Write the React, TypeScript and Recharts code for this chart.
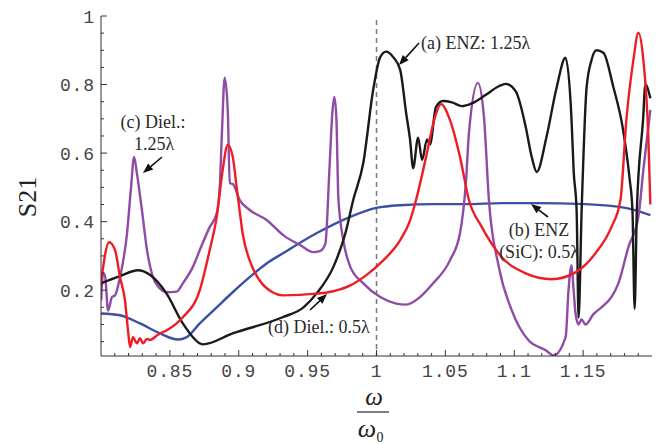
import React from 'react';
import { LineChart, Line, XAxis, YAxis, ReferenceLine } from 'recharts';

// omega / omega0 , S21
const enzLong: [number, number][] = [
  [0.8, 0.22], [0.8138, 0.241], [0.8268, 0.258], [0.8355, 0.245], [0.8476, 0.19],
  [0.8594, 0.103], [0.8717, 0.045], [0.8739, 0.042], [0.8956, 0.074], [0.9318, 0.121],
  [0.947, 0.15], [0.9564, 0.19], [0.9687, 0.268], [0.9774, 0.366], [0.9831, 0.463],
  [0.9904, 0.571], [0.9976, 0.785], [1.0027, 0.88], [1.007, 0.896], [1.0121, 0.88],
  [1.0172, 0.843], [1.0215, 0.717], [1.0244, 0.638], [1.0266, 0.556], [1.0302, 0.645],
  [1.0331, 0.58], [1.0367, 0.64], [1.0388, 0.625], [1.0432, 0.735], [1.0483, 0.752],
  [1.0548, 0.748], [1.062, 0.737], [1.0692, 0.745], [1.0794, 0.77], [1.0888, 0.795],
  [1.0938, 0.802], [1.1011, 0.78], [1.1083, 0.677], [1.1126, 0.59], [1.1163, 0.545],
  [1.1234, 0.647], [1.1307, 0.79], [1.1372, 0.878], [1.1416, 0.697], [1.1431, 0.55],
  [1.1453, 0.43], [1.1467, 0.12], [1.1489, 0.43], [1.1525, 0.79], [1.156, 0.87],
  [1.1597, 0.9], [1.1647, 0.893], [1.1718, 0.795], [1.179, 0.668], [1.1836, 0.53],
  [1.1858, 0.434], [1.1874, 0.146], [1.189, 0.434], [1.1935, 0.697], [1.1952, 0.8],
  [1.1988, 0.76],
];

const enzSiC: [number, number][] = [
  [0.8, 0.132], [0.8138, 0.127], [0.8283, 0.103], [0.8428, 0.074], [0.8558, 0.056],
  [0.8623, 0.063], [0.8717, 0.103], [0.884, 0.15], [0.8956, 0.194], [0.9079, 0.238],
  [0.9202, 0.278], [0.9318, 0.307], [0.9564, 0.366], [0.981, 0.414], [0.9998, 0.44],
  [1.0172, 0.448], [1.0411, 0.451], [1.065, 0.451], [1.091, 0.454], [1.1156, 0.454],
  [1.1518, 0.451], [1.1807, 0.44], [1.1988, 0.419],
];

const dielLong: [number, number][] = [
  [0.8001, 0.17], [0.8015, 0.25], [0.803, 0.24], [0.8051, 0.141], [0.808, 0.18],
  [0.8102, 0.185], [0.8138, 0.238], [0.8189, 0.366], [0.8218, 0.5], [0.824, 0.589],
  [0.8261, 0.54], [0.8297, 0.434], [0.8334, 0.317], [0.8377, 0.238], [0.8428, 0.205],
  [0.8478, 0.194], [0.855, 0.196], [0.8594, 0.22], [0.8667, 0.268], [0.8717, 0.317],
  [0.8789, 0.384], [0.884, 0.424], [0.8862, 0.5], [0.8877, 0.65], [0.8898, 0.82],
  [0.892, 0.726], [0.8935, 0.512], [0.8956, 0.51], [0.9007, 0.463], [0.9079, 0.434],
  [0.9202, 0.405], [0.9325, 0.36], [0.9448, 0.331], [0.9542, 0.311], [0.9593, 0.315],
  [0.9629, 0.336], [0.9658, 0.55], [0.968, 0.72], [0.9694, 0.764], [0.9709, 0.7],
  [0.9723, 0.47], [0.9759, 0.346], [0.981, 0.268], [0.9904, 0.22], [1.0027, 0.18],
  [1.0143, 0.161], [1.0215, 0.158], [1.0316, 0.18], [1.0411, 0.22], [1.0533, 0.287],
  [1.0606, 0.366], [1.065, 0.52], [1.0671, 0.658], [1.0736, 0.805], [1.078, 0.706],
  [1.0816, 0.463], [1.0888, 0.268], [1.0982, 0.141], [1.1105, 0.053], [1.1228, 0.025],
  [1.1286, 0.01], [1.1373, 0.063], [1.1394, 0.2], [1.1416, 0.273], [1.1431, 0.2],
  [1.1445, 0.132], [1.1467, 0.1], [1.1488, 0.115], [1.1517, 0.1], [1.1575, 0.13],
  [1.1633, 0.15], [1.1705, 0.18], [1.1756, 0.22], [1.1828, 0.325], [1.1901, 0.414],
  [1.1937, 0.55], [1.1988, 0.726],
];

const dielShort: [number, number][] = [
  [0.8, 0.223], [0.8059, 0.34], [0.8102, 0.317], [0.8138, 0.238], [0.8174, 0.17],
  [0.8196, 0.083], [0.8211, 0.034], [0.8232, 0.063], [0.8261, 0.045], [0.8283, 0.06],
  [0.8305, 0.045], [0.8334, 0.058], [0.8355, 0.055], [0.8413, 0.07], [0.8478, 0.083],
  [0.8594, 0.121], [0.8717, 0.2], [0.8789, 0.317], [0.884, 0.414], [0.8883, 0.55],
  [0.892, 0.624], [0.8956, 0.59], [0.8985, 0.5], [0.9007, 0.43], [0.9028, 0.366],
  [0.9079, 0.287], [0.9151, 0.229], [0.9245, 0.194], [0.9318, 0.185], [0.9564, 0.19],
  [0.9687, 0.197], [0.981, 0.214], [0.9926, 0.244], [1.0049, 0.287], [1.0172, 0.346],
  [1.0244, 0.404], [1.0287, 0.463], [1.036, 0.589], [1.0425, 0.706], [1.0468, 0.743],
  [1.0533, 0.697], [1.0606, 0.589], [1.0671, 0.463], [1.0765, 0.384], [1.091, 0.296],
  [1.1083, 0.249], [1.1271, 0.232], [1.1445, 0.252], [1.159, 0.308], [1.1705, 0.384],
  [1.1771, 0.463], [1.1814, 0.697], [1.1865, 0.872], [1.1901, 0.951], [1.1937, 0.872],
  [1.1973, 0.65], [1.1988, 0.45],
];

const xMajor = [0.85, 0.9, 0.95, 1, 1.05, 1.1, 1.15];
const xMajorLabels = ['0.85', '0.9', '0.95', '1', '1.05', '1.1', '1.15'];
const yMajor = [0.2, 0.4, 0.6, 0.8, 1];
const yMajorLabels = ['0.2', '0.4', '0.6', '0.8', '1'];

const xTicks: number[] = [];
for (let i = 81; i <= 119; i++) xTicks.push(i / 100);
const yTicks: number[] = [];
for (let i = 1; i <= 20; i++) yTicks.push(i / 20);

const toRows = (pts: [number, number][]) => pts.map(([x, y]) => ({ x, y }));

const tickFont = '"Liberation Mono", "Courier New", monospace';
const serif = '"Liberation Serif", "Times New Roman", serif';
const axisCol = '#333';

const labelOf = (v: number, majors: number[], labels: string[]) => {
  const i = majors.findIndex((m) => Math.abs(m - v) < 1e-6);
  return i >= 0 ? labels[i] : null;
};

const XTick = (props: any) => {
  const { x, y, payload } = props;
  const lab = labelOf(payload.value, xMajor, xMajorLabels);
  return (
    <g>
      <line x1={x} x2={x} y1={y} y2={y - (lab ? 6 : 3)} stroke={axisCol} strokeWidth={1} />
      {lab && (
        <text x={x} y={y + 20.5} textAnchor="middle" fontFamily={tickFont} fontSize={18}
          letterSpacing={0.9} fill="#444">{lab}</text>
      )}
    </g>
  );
};

const YTick = (props: any) => {
  const { x, y, payload } = props;
  const lab = labelOf(payload.value, yMajor, yMajorLabels);
  return (
    <g>
      <line x1={x} x2={x + (lab ? 6 : 3)} y1={y} y2={y} stroke={axisCol} strokeWidth={1} />
      {lab && (
        <text x={x - 6} y={y + 6.5} textAnchor="end" fontFamily={tickFont} fontSize={18}
          letterSpacing={0.9} fill="#444">{lab}</text>
      )}
    </g>
  );
};

const Arrow = ({ x1, y1, x2, y2 }: { x1: number; y1: number; x2: number; y2: number }) => {
  const dx = x2 - x1, dy = y2 - y1;
  const len = Math.hypot(dx, dy);
  const ux = dx / len, uy = dy / len;
  const hl = 10, hw = 4;
  const bx = x2 - ux * hl, by = y2 - uy * hl;
  return (
    <g>
      <line x1={x1} y1={y1} x2={bx} y2={by} stroke="#111" strokeWidth={1.6} />
      <polygon
        points={`${x2},${y2} ${bx - uy * hw},${by + ux * hw} ${bx + uy * hw},${by - ux * hw}`}
        fill="#111"
      />
    </g>
  );
};

export default function App() {
  return (
    <div style={{ position: 'absolute', left: 0, top: 0, width: 664, height: 444, background: '#fff' }}>
      <LineChart width={664} height={444} margin={{ top: 16, right: 12, bottom: 58, left: 0 }}>
        <XAxis
          type="number"
          dataKey="x"
          domain={[0.8, 1.2]}
          ticks={xTicks}
          interval={0}
          allowDataOverflow
          height={30}
          tickSize={0}
          tickMargin={0}
          tickLine={false}
          stroke={axisCol}
          tick={<XTick />}
        />
        <YAxis
          type="number"
          dataKey="y"
          domain={[0.008, 1]}
          ticks={yTicks}
          interval={0}
          allowDataOverflow
          width={101}
          tickSize={0}
          tickMargin={0}
          tickLine={false}
          stroke={axisCol}
          tick={<YTick />}
        />
        <ReferenceLine
          segment={[{ x: 1, y: 0.988 }, { x: 1, y: 0.008 }]}
          stroke="#777"
          strokeWidth={1.5}
          strokeDasharray="5 4"
        />
        <Line data={toRows(enzSiC)} dataKey="y" type="monotone" stroke="#3b4fa3" strokeWidth={2.4}
          dot={false} isAnimationActive={false} />
        <Line data={toRows(dielLong)} dataKey="y" type="monotone" stroke="#8e4ca6" strokeWidth={2.4}
          dot={false} isAnimationActive={false} />
        <Line data={toRows(enzLong)} dataKey="y" type="monotone" stroke="#1a1a1a" strokeWidth={2.4}
          dot={false} isAnimationActive={false} />
        <Line data={toRows(dielShort)} dataKey="y" type="monotone" stroke="#ee1d25" strokeWidth={2.4}
          dot={false} isAnimationActive={false} />
      </LineChart>

      <svg width={664} height={444} style={{ position: 'absolute', left: 0, top: 0, pointerEvents: 'none' }}>
        {/* axis titles */}
        <text x={0} y={0} transform="translate(36,197) rotate(-90)" textAnchor="middle"
          fontFamily={serif} fontSize={26} fill="#222">S21</text>
        <text x={374} y={405} textAnchor="middle" fontFamily={serif} fontStyle="italic"
          fontSize={25} fill="#222">ω</text>
        <line x1={357} x2={389} y1={412} y2={412} stroke="#555" strokeWidth={1.5} />
        <text x={367} y={437} textAnchor="middle" fontFamily={serif} fontStyle="italic"
          fontSize={26} fill="#222">ω</text>
        <text x={380} y={442} textAnchor="middle" fontFamily={serif} fontSize={14} fill="#222">0</text>

        {/* annotations */}
        <g fontFamily={serif} fontSize={18} fill="#2a2a2a">
          <text x={421} y={49}>(a) ENZ: 1.25λ</text>
          <text x={153} y={128} textAnchor="middle">(c) Diel.:</text>
          <text x={154} y={150} textAnchor="middle">1.25λ</text>
          <text x={539} y={236} textAnchor="middle">(b) ENZ</text>
          <text x={539} y={258} textAnchor="middle">(SiC): 0.5λ</text>
          <text x={268} y={333}>(d) Diel.: 0.5λ</text>
        </g>
        <Arrow x1={419} y1={43} x2={399} y2={65} />
        <Arrow x1={162} y1={157} x2={143} y2={173} />
        <Arrow x1={548} y1={217} x2={531} y2={204} />
        <Arrow x1={310} y1={310} x2={327} y2={294} />
      </svg>
    </div>
  );
}
